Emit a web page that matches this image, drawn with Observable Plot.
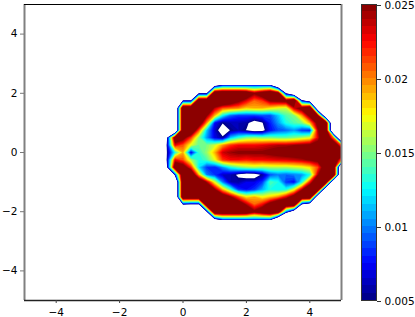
<!DOCTYPE html>
<html>
<head>
<meta charset="utf-8">
<script src="https://cdn.jsdelivr.net/npm/d3@7"></script>
<script src="https://cdn.jsdelivr.net/npm/@observablehq/plot@0.6"></script>
<style>
html,body{margin:0;padding:0;background:#fff;width:415px;height:317px;overflow:hidden}
#chart{position:relative;width:415px;height:317px}
#chart svg{position:absolute;left:0;top:0;background:transparent}
text{fill:#000}
g[aria-label="contour"]{filter:blur(0.45px)}
</style>
</head>
<body>
<div id="chart"></div>
<script>
// Values in units of 0.0001; rows run from y = 2.5 down to y = -2.5 in steps of 0.25,
// columns from x = -0.75 to x = 5.25 in steps of 0.25.
const y_p250=[-200,-200,-200,-200,-200,-200,-200,-200,-290,-290,-290,-290,-290,-290,-290,-200,-200,-200,-200,-200,-200,-200,-200,-200,-200];
const y_p225=[-200,-200,-200,-200,-200,-200,-150,50,96,96,96,96,96,96,96,-10,-200,-200,-200,-200,-200,-200,-200,-200,-200];
const y_p200=[-200,-200,-200,-200,-200,50,50,300,300,300,300,290,250,280,300,270,50,-20,-200,-200,-200,-200,-200,-200,-200];
const y_p175=[-200,-200,-200,60,60,300,300,300,300,280,255,230,205,215,250,255,260,300,70,20,-200,-200,-200,-200,-200];
const y_p150=[-200,-200,-60,300,300,300,300,240,210,205,200,185,190,190,180,170,165,235,265,300,-30,-200,-200,-200,-200];
const y_p125=[-200,-200,-60,300,300,300,250,190,125,95,85,85,85,90,90,115,140,150,195,260,250,-30,-200,-200,-200];
const y_p100=[-200,-200,-60,300,300,280,195,75,52,60,60,56,35,48,80,105,130,140,150,190,260,300,-100,-200,-200];
const y_p075=[-200,-200,-60,300,300,210,115,65,30,52,60,49,35,38,75,90,95,105,85,80,240,300,-100,-200,-200];
const y_p050=[-200,50,280,260,215,150,105,70,55,115,135,150,155,150,150,145,145,150,160,170,230,300,200,-100,-100];
const y_p025=[-100,60,230,210,170,145,150,165,195,215,225,225,225,230,235,240,240,245,250,255,265,300,300,200,200];
const y_000=[-100,55,130,190,70,135,155,190,235,245,250,250,250,250,255,260,265,270,275,280,290,300,300,300,300];
const y_m025=[-100,60,230,210,160,130,140,170,215,225,225,220,225,225,228,230,232,235,240,250,260,300,300,200,200];
const y_m050=[-100,50,280,270,220,120,85,80,105,130,145,155,160,155,160,160,160,165,170,180,210,280,300,-100,-100];
const y_m075=[-200,-200,70,300,300,190,100,85,65,60,45,32,32,55,90,100,95,100,105,130,240,300,300,-100,-100];
const y_m100=[-200,-200,-60,300,300,300,240,170,100,60,58,70,70,85,140,130,85,75,130,220,300,300,-60,-200,-200];
const y_m125=[-200,-200,-60,300,300,300,300,250,190,140,85,75,85,110,130,125,130,170,240,300,300,-40,-200,-200,-200];
const y_m150=[-200,-200,-60,300,300,300,300,300,280,250,210,180,190,175,185,200,230,270,300,300,-30,-200,-200,-200,-200];
const y_m175=[-200,-200,-200,60,50,50,300,300,300,300,280,240,205,225,265,300,300,300,50,10,-200,-200,-200,-200,-200];
const y_m200=[-200,-200,-200,-200,-200,-200,50,300,300,300,300,290,255,280,300,280,95,0,-200,-200,-200,-200,-200,-200,-200];
const y_m225=[-200,-200,-200,-200,-200,-200,-150,50,100,100,100,100,100,100,100,-30,-200,-200,-200,-200,-200,-200,-200,-200,-200];
const y_m250=[-200,-200,-200,-200,-200,-200,-200,-200,-290,-290,-290,-290,-290,-290,-290,-200,-200,-200,-200,-200,-200,-200,-200,-200,-200];

const rows=[y_p250,y_p225,y_p200,y_p175,y_p150,y_p125,y_p100,y_p075,y_p050,y_p025,y_000,
            y_m025,y_m050,y_m075,y_m100,y_m125,y_m150,y_m175,y_m200,y_m225,y_m250];
const values=rows.flat().map(v=>v/10000);

const levels=d3.range(40).map(i=>(50+5*i)/10000);
const axisTicks=[-4,-2,0,2,4];
const barTicks=[0.005,0.01,0.015,0.02,0.025];
const barLabels=["0.005","0.01","0.015","0.02","0.025"];

const clip01=v=>Math.max(0,Math.min(1,v));
const jet=t=>`rgb(${[3,2,1].map(k=>Math.round(255*clip01(1.5-Math.abs(4*t-k)))).join(",")})`;
const colorScale={type:"linear",domain:[0.005,0.025],interpolate:t=>jet(t+0.0125)};
const font={fontFamily:"'DejaVu Sans'",fontSize:"10.5px"};

const main=Plot.plot({
  width:415,height:317,
  marginLeft:24,marginRight:74,marginTop:4,marginBottom:17,
  style:{...font,background:"transparent"},
  x:{domain:[-5,5],ticks:axisTicks,label:null},
  y:{domain:[-5,5],ticks:axisTicks,label:null},
  color:colorScale,
  marks:[
    Plot.contour(values,{value:Plot.identity,width:25,height:21,x1:-0.875,x2:5.375,y1:2.625,y2:-2.625,
      thresholds:levels,fill:"value",stroke:"none",clip:true}),
    Plot.ruleX([-5,5],{stroke:"#808080",strokeWidth:2}),
    Plot.ruleY([5],{stroke:"#000",strokeWidth:1}),
    Plot.ruleY([-5],{stroke:"#222",strokeWidth:1.4}),
    Plot.axisX({ticks:axisTicks,tickSize:3,tickPadding:5,stroke:"#444",label:null,fill:"#000"}),
    Plot.axisY({ticks:axisTicks,tickSize:4,tickPadding:3,stroke:"#777",label:null,fill:"#000"})
  ]
});

const bar=Plot.plot({
  width:415,height:317,
  marginLeft:361,marginRight:39,marginTop:4,marginBottom:17,
  style:{...font,background:"transparent"},
  x:{domain:[0,1],axis:null},
  y:{domain:[0.005,0.025],label:null},
  color:colorScale,
  marks:[
    Plot.rect(levels,{x1:0,x2:1,y1:d=>d,y2:d=>d+0.0005,fill:d=>d,inset:0,shapeRendering:"crispEdges"}),
    Plot.frame({stroke:"#333",strokeWidth:1}),
    Plot.axisY({anchor:"right",ticks:barTicks,tickFormat:d=>barLabels[barTicks.findIndex(t=>Math.abs(t-d)<1e-9)],
      tickSize:4,tickPadding:4,stroke:"#333",label:null,fill:"#000",dy:1})
  ]
});

document.getElementById("chart").append(main,bar);
</script>
</body>
</html>
